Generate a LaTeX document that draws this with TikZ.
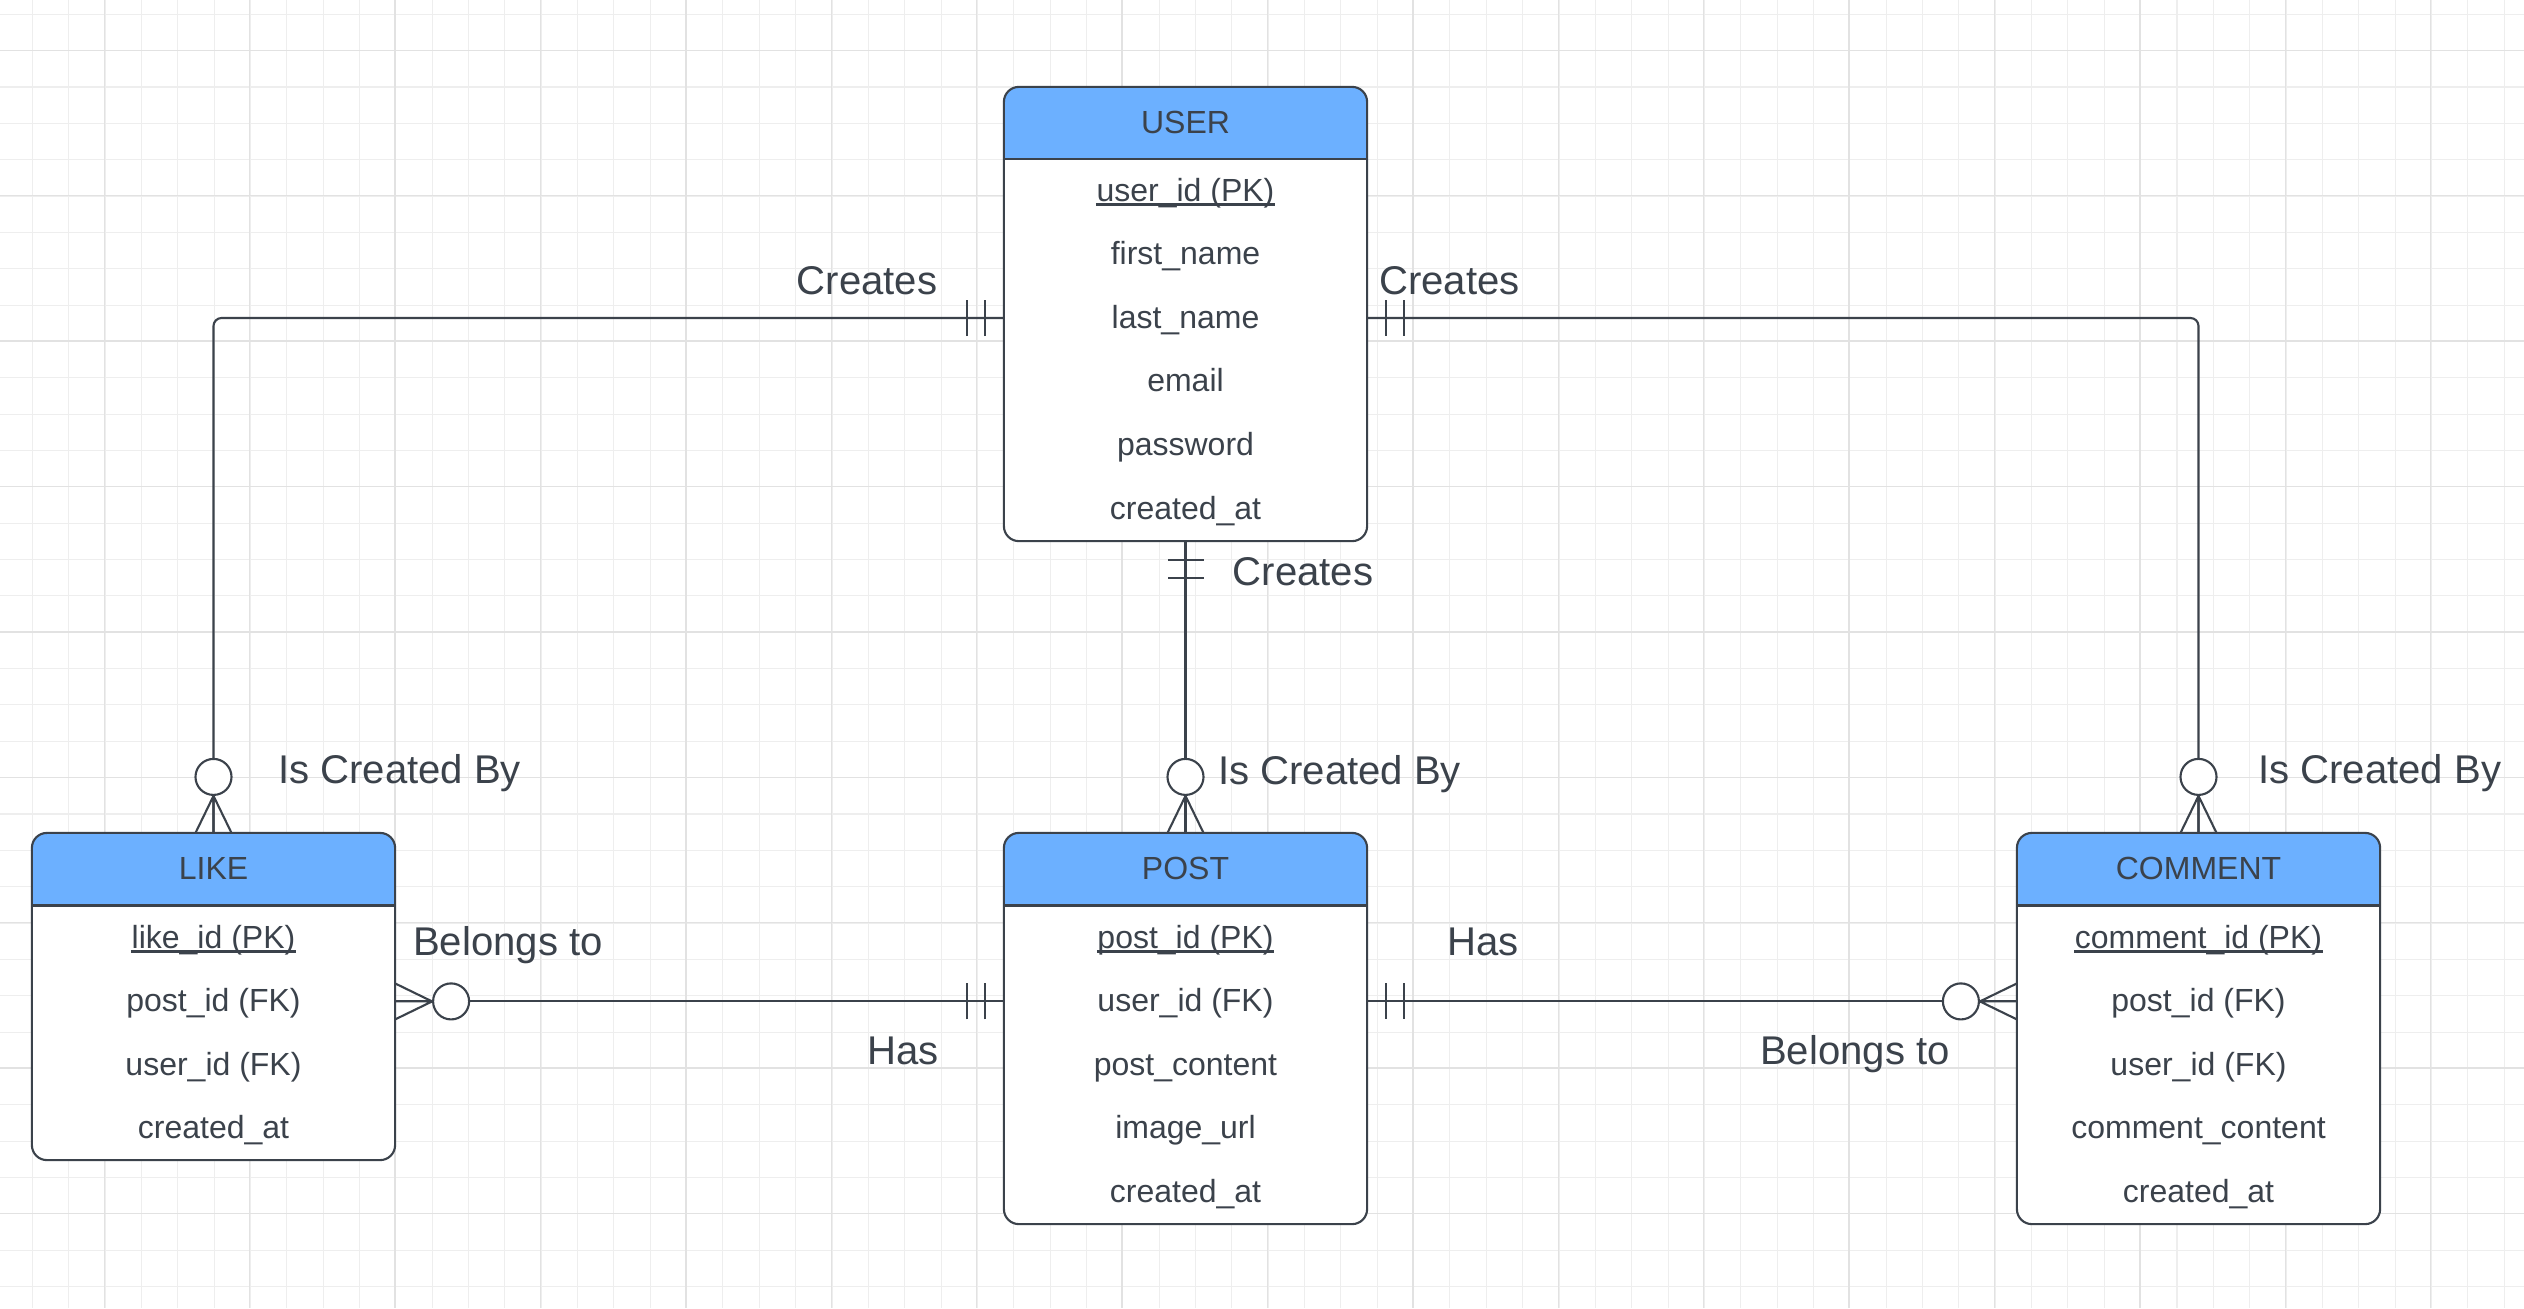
\documentclass[tikz,border=0pt]{standalone}
\usepackage{fontspec}
\setmainfont{Liberation Sans}

\definecolor{ink}{RGB}{59,66,75}
\definecolor{headblue}{RGB}{108,176,255}
\definecolor{gridminor}{RGB}{238,238,238}
\definecolor{gridmajor}{RGB}{226,226,226}

\tikzset{
  tbl/.style={draw=ink, line width=0.6pt, fill=white, rounded corners=0.15cm,
    minimum width=3.63cm, inner sep=0pt, outer sep=0pt,
    path picture={\fill[headblue, sharp corners] (path picture bounding box.north west)
      rectangle ([yshift=-0.725cm]path picture bounding box.north east);}},
  fld/.style={font=\fontsize{9.1}{11}\selectfont, text=ink, inner sep=0pt,
    text height=7pt, text depth=1.2pt},
  lbl/.style={font=\fontsize{11.4}{13.7}\selectfont, text=ink, inner sep=0pt, anchor=base west},
  conn/.style={draw=ink, line width=0.6pt},
  onlyone/.pic={\draw[conn] (19,-18) -- (19,18) (37,-18) -- (37,18);},
  manyopt/.pic={\draw[conn] (0,-18) -- (37,0) -- (0,18) (0,0) -- (37,0);
    \draw[conn, fill=white] (56,0) circle[radius=0.18cm];}
}

\begin{document}
\begin{tikzpicture}[x=0.01cm, y=-0.01cm]
\useasboundingbox (0,0) rectangle (2524,1308);
\fill[white] (0,0) rectangle (2524,1308);

% grid
\foreach \i in {-1,...,69} \draw[gridminor, line width=0.3pt] ({32.3+36.35*\i},0) -- ++(0,1308);
\foreach \i in {0,...,35} \draw[gridminor, line width=0.3pt] (0,{14.3+36.35*\i}) -- ++(2524,0);
\foreach \i in {0,...,18} \draw[gridmajor, line width=0.4pt] ({-41.1+145.4*\i},0) -- ++(0,1308);
\foreach \i in {0,...,8} \draw[gridmajor, line width=0.4pt] (0,{50.3+145.4*\i}) -- ++(2524,0);

% USER
\node[tbl, minimum height=4.54cm] (user) at (1185.5,314) {};
\draw[conn] ([yshift=-0.725cm]user.north west) -- ([yshift=-0.725cm]user.north east);
\node[fld] (uh) at (1185.5,123) {USER};
\foreach \t [count=\i] in {user\_id (PK), first\_name, last\_name, email, password, created\_at}
  \node[fld] (u\i) at (1185.5,{190.8+63.6*(\i-1)}) {\t};
\draw[conn] ([yshift=-1pt]u1.base west) -- ([yshift=-1pt]u1.base east);

% LIKE
\node[tbl, minimum height=3.27cm] (like) at (213.5,996.5) {};
\draw[conn] ([yshift=-0.725cm]like.north west) -- ([yshift=-0.725cm]like.north east);
\node[fld] (lh) at (213.5,869.5) {LIKE};
\foreach \t [count=\i] in {like\_id (PK), post\_id (FK), user\_id (FK), created\_at}
  \node[fld] (l\i) at (213.5,{937.8+63.6*(\i-1)}) {\t};
\draw[conn] ([yshift=-1pt]l1.base west) -- ([yshift=-1pt]l1.base east);

% POST
\node[tbl, minimum height=3.91cm] (post) at (1185.5,1028.5) {};
\draw[conn] ([yshift=-0.725cm]post.north west) -- ([yshift=-0.725cm]post.north east);
\node[fld] (ph) at (1185.5,869.5) {POST};
\foreach \t [count=\i] in {post\_id (PK), user\_id (FK), post\_content, image\_url, created\_at}
  \node[fld] (p\i) at (1185.5,{937.8+63.6*(\i-1)}) {\t};
\draw[conn] ([yshift=-1pt]p1.base west) -- ([yshift=-1pt]p1.base east);

% COMMENT
\node[tbl, minimum height=3.91cm] (comment) at (2198.5,1028.5) {};
\draw[conn] ([yshift=-0.725cm]comment.north west) -- ([yshift=-0.725cm]comment.north east);
\node[fld] (ch) at (2198.5,869.5) {COMMENT};
\foreach \t [count=\i] in {comment\_id (PK), post\_id (FK), user\_id (FK), comment\_content, created\_at}
  \node[fld] (c\i) at (2198.5,{937.8+63.6*(\i-1)}) {\t};
\draw[conn] ([yshift=-1pt]c1.base west) -- ([yshift=-1pt]c1.base east);

% relations
\draw[conn, rounded corners=0.08cm] (u3 -| user.west) -| (like.north);
\draw[conn, rounded corners=0.08cm] (u3 -| user.east) -| (comment.north);
\draw[conn] (user.south) -- (post.north);
\draw[conn] (l2 -| like.east) -- (p2 -| post.west);
\draw[conn] (p2 -| post.east) -- (c2 -| comment.west);

\pic[rotate=180] at (u3 -| user.west) {onlyone};
\pic[rotate=90] at (like.north) {manyopt};
\pic at (u3 -| user.east) {onlyone};
\pic[rotate=90] at (comment.north) {manyopt};
\pic[rotate=-90] at (user.south) {onlyone};
\pic[rotate=90] at (post.north) {manyopt};
\pic at (l2 -| like.east) {manyopt};
\pic[rotate=180] at (p2 -| post.west) {onlyone};
\pic at (p2 -| post.east) {onlyone};
\pic[rotate=180] at (c2 -| comment.west) {manyopt};

% labels
\node[lbl] (cr1) at (796,294.3) {Creates};
\node[lbl] (cr2) at (1378.5,294.3) {Creates};
\node[lbl] (cr3) at (1232,585) {Creates};
\node[lbl] (icb1) at (277.5,783.3) {Is Created By};
\node[lbl] (icb2) at (1217.5,784.3) {Is Created By};
\node[lbl] (icb3) at (2257.5,783.3) {Is Created By};
\node[lbl] (bt1) at (412.5,955) {Belongs to};
\node[lbl] (bt2) at (1759.5,1064) {Belongs to};
\node[lbl] (has1) at (867,1064) {Has};
\node[lbl] (has2) at (1446.5,955) {Has};
\end{tikzpicture}
\end{document}
